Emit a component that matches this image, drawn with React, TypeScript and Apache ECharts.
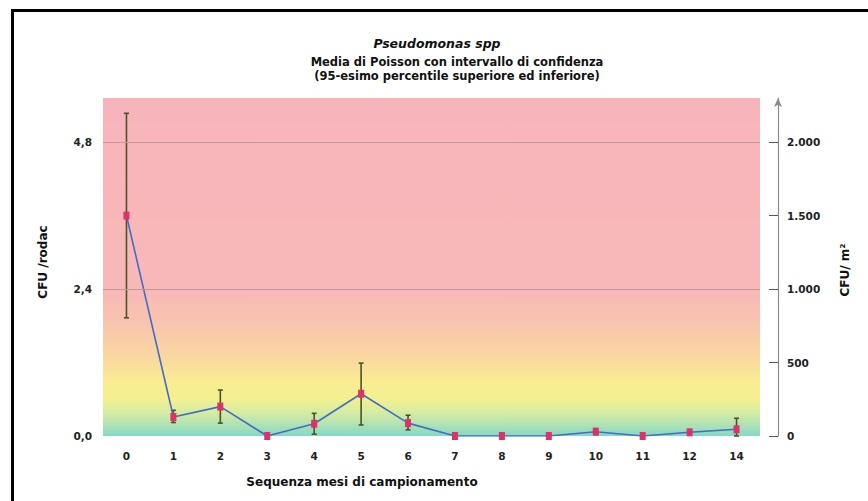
import React, { useEffect, useRef } from "react";
import * as echarts from "echarts";

const categories = ["0", "1", "2", "3", "4", "5", "6", "7", "8", "9", "10", "11", "12", "14"];
const meanValues = [3.6, 0.31, 0.48, 0.0, 0.2, 0.69, 0.21, 0.0, 0.0, 0.0, 0.07, 0.0, 0.06, 0.11];
const lowerValues = [1.93, 0.22, 0.21, 0.0, 0.03, 0.18, 0.1, 0.0, 0.0, 0.0, 0.03, 0.0, 0.02, 0.0];
const upperValues = [5.27, 0.42, 0.75, 0.03, 0.37, 1.19, 0.34, 0.03, 0.03, 0.02, 0.12, 0.02, 0.1, 0.29];
const leftTicks = [0, 2.4, 4.8];
const rightTicks = [0, 500, 1000, 1500, 2000];
const gridLevels = [2.4, 4.8];

const FONT = "DejaVu Sans";

export default function App() {
  const ref = useRef<HTMLDivElement>(null);
  useEffect(() => {
    document.body.style.margin = "0";
    const chart = echarts.init(ref.current!, null, { renderer: "svg" });
    const errData = categories.map((_, i) => [i, lowerValues[i], upperValues[i]]);
    const bg = new echarts.graphic.LinearGradient(0, 0, 0, 1, [
      { offset: 0, color: "#f8b4bb" },
      { offset: 0.57, color: "#f8b8b8" },
      { offset: 0.67, color: "#f9c5ae" },
      { offset: 0.77, color: "#fad8a0" },
      { offset: 0.84, color: "#f9ec92" },
      { offset: 0.89, color: "#f4f090" },
      { offset: 0.93, color: "#d6eca2" },
      { offset: 0.965, color: "#b2e2b4" },
      { offset: 1, color: "#84d8c6" },
    ]);
    chart.setOption({
      animation: false,
      backgroundColor: "#ffffff",
      grid: {
        left: 103,
        right: 108,
        top: 98,
        bottom: 65,
        show: true,
        backgroundColor: bg,
        borderWidth: 0,
      },
      xAxis: {
        type: "category",
        data: categories,
        boundaryGap: true,
        axisLine: { show: false },
        axisTick: { show: false },
        axisLabel: {
          margin: 14,
          fontFamily: FONT,
          fontWeight: "bold",
          fontSize: 10.5,
          color: "#222",
        },
      },
      yAxis: [
        {
          type: "value",
          position: "left",
          min: 0,
          max: 5.52,
          axisLine: { show: false },
          axisTick: { show: false },
          splitLine: { show: false },
          axisLabel: {
            customValues: leftTicks,
            margin: 11,
            fontFamily: FONT,
            fontWeight: "bold",
            fontSize: 10.5,
            color: "#222",
            formatter: (v: number) => v.toFixed(1).replace(".", ","),
          },
        },
        {
          type: "value",
          position: "right",
          offset: 18,
          min: 0,
          max: 2300,
          splitLine: { show: false },
          axisLine: {
            show: true,
            lineStyle: { color: "#8a8a8a", width: 1.2 },
            symbol: ["none", "arrow"],
            symbolSize: [6, 9],
          },
          axisTick: {
            show: true,
            inside: true,
            length: 9,
            customValues: rightTicks,
            lineStyle: { color: "#555" },
          },
          axisLabel: {
            customValues: rightTicks,
            margin: 9,
            fontFamily: FONT,
            fontWeight: "bold",
            fontSize: 10.5,
            color: "#222",
            formatter: (v: number) => String(v).replace(/\B(?=(\d{3})+(?!\d))/g, "."),
          },
        },
      ],
      series: [
        {
          type: "custom",
          yAxisIndex: 0,
          data: errData,
          z: 2,
          renderItem: (params: any, api: any) => {
            const x = api.value(0);
            const lo = api.coord([x, api.value(1)]);
            const hi = api.coord([x, api.value(2)]);
            const style = { stroke: "#4a5424", lineWidth: 1.6 };
            const cap = 2.5;
            return {
              type: "group",
              children: [
                { type: "line", shape: { x1: lo[0], y1: lo[1], x2: hi[0], y2: hi[1] }, style },
                { type: "line", shape: { x1: hi[0] - cap, y1: hi[1], x2: hi[0] + cap, y2: hi[1] }, style },
                { type: "line", shape: { x1: lo[0] - cap, y1: lo[1], x2: lo[0] + cap, y2: lo[1] }, style },
              ],
            };
          },
        },
        {
          type: "line",
          yAxisIndex: 0,
          data: meanValues,
          z: 3,
          symbol: "rect",
          symbolSize: [6, 8],
          showAllSymbol: true,
          itemStyle: { color: "#e0306a" },
          lineStyle: { color: "#3f6ec4", width: 1.6 },
          markLine: {
            silent: true,
            symbol: "none",
            label: { show: false },
            lineStyle: { color: "#c29a9c", width: 1, type: "solid" },
            data: gridLevels.map((v) => ({ yAxis: v })),
          },
        },
      ],
      graphic: [
        { type: "rect", shape: { x: 11, y: 9, width: 857, height: 3 }, style: { fill: "#000" } },
        { type: "rect", shape: { x: 11, y: 9, width: 3, height: 492 }, style: { fill: "#000" } },
        {
          type: "text",
          x: 437,
          y: 43,
          style: {
            text: "Pseudomonas spp",
            font: `italic bold 12.5px "${FONT}"`,
            fill: "#111",
            textAlign: "center",
            textVerticalAlign: "middle",
          },
        },
        {
          type: "text",
          x: 457,
          y: 62,
          style: {
            text: "Media di Poisson con intervallo di confidenza",
            font: `bold 11.5px "${FONT}"`,
            fill: "#111",
            textAlign: "center",
            textVerticalAlign: "middle",
          },
        },
        {
          type: "text",
          x: 457,
          y: 76,
          style: {
            text: "(95-esimo percentile superiore ed inferiore)",
            font: `bold 11.5px "${FONT}"`,
            fill: "#111",
            textAlign: "center",
            textVerticalAlign: "middle",
          },
        },
        {
          type: "text",
          x: 362,
          y: 482,
          style: {
            text: "Sequenza mesi di campionamento",
            font: `bold 12px "${FONT}"`,
            fill: "#111",
            textAlign: "center",
            textVerticalAlign: "middle",
          },
        },
        {
          type: "text",
          x: 43,
          y: 262,
          rotation: Math.PI / 2,
          style: {
            text: "CFU /rodac",
            font: `bold 12px "${FONT}"`,
            fill: "#111",
            textAlign: "center",
            textVerticalAlign: "middle",
          },
        },
        {
          type: "text",
          x: 845,
          y: 270,
          rotation: Math.PI / 2,
          style: {
            text: "CFU/ m²",
            font: `bold 12px "${FONT}"`,
            fill: "#111",
            textAlign: "center",
            textVerticalAlign: "middle",
          },
        },
      ],
    });
    return () => chart.dispose();
  }, []);
  return <div ref={ref} style={{ width: 868, height: 501 }} />;
}
